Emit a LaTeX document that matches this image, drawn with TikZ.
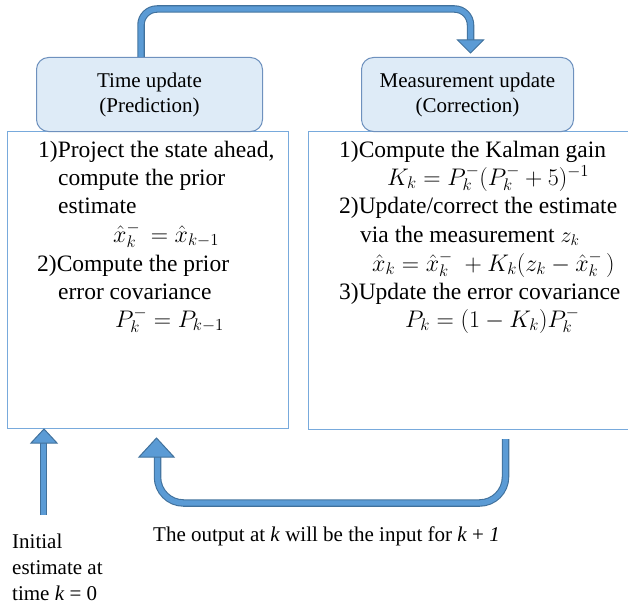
\RequirePackage{fix-cm}
\documentclass[tikz,border=0pt]{standalone}
\usepackage{fontspec}
\setmainfont{Liberation Serif}
\definecolor{arrowfill}{RGB}{91,155,213}
\definecolor{arrowedge}{RGB}{65,113,156}
\definecolor{headfill}{RGB}{222,235,247}
\definecolor{headedge}{RGB}{110,145,190}
\definecolor{boxedge}{RGB}{120,170,220}
\begin{document}
\begin{tikzpicture}[x=1pt,y=-1pt,
  stepbody/.style={draw=boxedge, line width=1pt, fill=white, minimum width=281pt, minimum height=297pt, anchor=north west, inner sep=0pt},
  stephead/.style={draw=headedge, line width=1pt, fill=headfill, rounded corners=12pt, anchor=north west, inner sep=0pt, minimum height=74pt, align=center, font=\fontsize{21}{25}\selectfont},
  txt/.style={anchor=base west, inner sep=0pt, font=\fontsize{23.5}{28}\selectfont},
  formula/.style={anchor=base west, inner sep=0pt, font=\fontsize{24}{28}\selectfont},
  note/.style={anchor=base west, inner sep=0pt, font=\fontsize{21}{26}\selectfont},
  shaftout/.style={draw=arrowedge, line width=7.5pt},
  shaftin/.style={draw=arrowfill, line width=5.3pt},
  tiphead/.style={fill=arrowfill, draw=arrowedge, line width=1pt, line join=miter}]
\useasboundingbox (0,0) rectangle (628,607);

% step boxes
\node[stepbody] (pbox) at (7,131) {};
\node[stepbody, minimum width=322pt, minimum height=298pt] (cbox) at (308,131) {};
\node[stephead, minimum width=226pt] (tu) at (36,57) {Time update\\(Prediction)};
\node[stephead, minimum width=212pt] (mu) at (361,57) {Measurement update\\(Correction)};

% prediction step
\node[txt] (p1) at (38,157) {1)Project the state ahead,};
\node[txt] (p2) at (58,185) {compute the prior};
\node[txt] (p3) at (58,213) {estimate};
\node[formula] (p4) at (113,242) {$\hat{x}_k^{-}\,=\hat{x}_{k-1}$};
\node[txt] (p5) at (37,271) {2)Compute the prior};
\node[txt] (p6) at (58,299) {error covariance};
\node[formula] (p7) at (115,327) {$P_k^{-}=P_{k-1}$};

% correction step
\node[txt] (c1) at (339,157) {1)Compute the Kalman gain};
\node[formula] (c2) at (387,185) {$K_k=P_k^{-}(P_k^{-}+5)^{-1}$};
\node[txt] (c3) at (339,213) {2)Update/correct the estimate};
\node[txt] (c4) at (360,242) {via the measurement {\fontsize{22}{28}\selectfont$z_k$}};
\node[formula] (c5) at (372,271) {$\hat{x}_k=\hat{x}_k^{-}\;+K_k(z_k-\hat{x}_k^{-}\,)$};
\node[txt] (c6) at (339,299) {3)Update the error covariance};
\node[formula] (c7) at (405,327) {$P_k=(1-K_k)P_k^{-}$};

% notes
\node[note] (init1) at (12,548) {Initial};
\node[note] (init2) at (12,574) {estimate at};
\node[note] (init3) at (12,600) {time \textit{k} = 0};
\node[note] (loop) at (153,541) {The output at \textit{k} will be the input for \textit{k} + \textit{1}};

% anchor points of the connectors
\coordinate (tstart) at ([xshift=-8.5pt]tu.north);
\coordinate (ttop) at (300,9);
\coordinate (ttip) at ([xshift=3pt,yshift=4pt]mu.north);
\coordinate (bstart) at ([xshift=36pt,yshift=-9pt]cbox.south);
\coordinate (bbottom) at (330,503);
\coordinate (btip) at ([xshift=8.5pt,yshift=-9pt]pbox.south);
\coordinate (istart) at (43.5,515);
\coordinate (itip) at ([xshift=37pt]pbox.south west);

% prediction -> correction
\foreach \s in {shaftout,shaftin}
  \draw[\s, rounded corners=16pt] (tstart) |- (ttop) -| ([yshift=13pt]ttip);
\draw[tiphead] ([xshift=-13pt,yshift=13pt]ttip) -- ([xshift=13pt,yshift=13pt]ttip) -- (ttip) -- cycle;

% correction -> next prediction
\foreach \s in {shaftout,shaftin}
  \draw[\s, rounded corners=26pt] (bstart) |- (bbottom) -| ([xshift=1pt,yshift=-19pt]btip);
\draw[tiphead] ([xshift=-17.5pt,yshift=-19pt]btip) -- ([xshift=17.5pt,yshift=-19pt]btip) -- (btip) -- cycle;

% initial estimate
\foreach \s in {shaftout,shaftin}
  \draw[\s] (istart) -- ([xshift=-0.5pt,yshift=-14pt]itip);
\draw[tiphead] ([xshift=-13pt,yshift=-14pt]itip) -- ([xshift=13pt,yshift=-14pt]itip) -- (itip) -- cycle;
\end{tikzpicture}
\end{document}
